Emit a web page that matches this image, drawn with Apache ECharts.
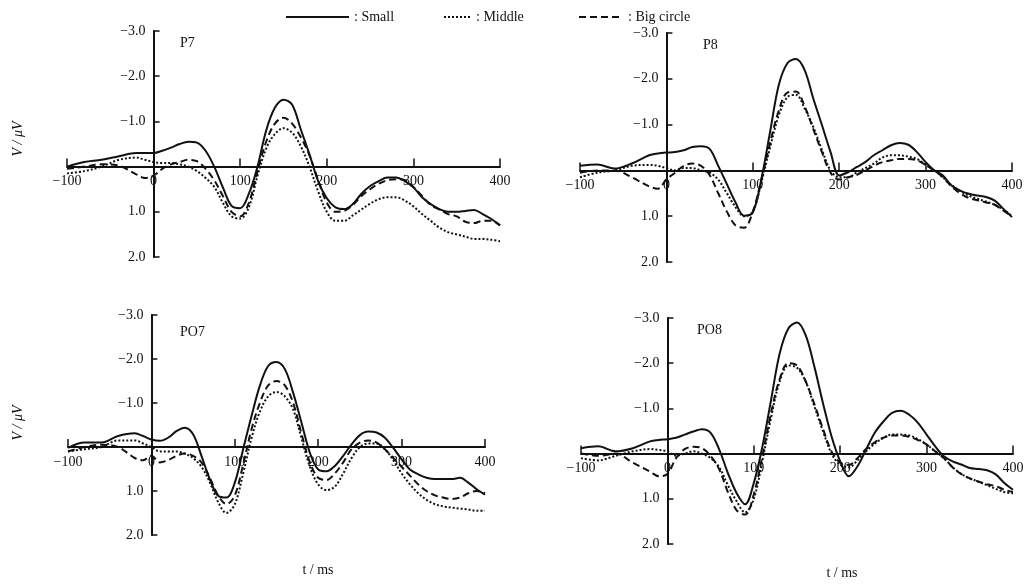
<!DOCTYPE html>
<html>
<head>
<meta charset="utf-8">
<script src="https://cdn.jsdelivr.net/npm/echarts@6/dist/echarts.min.js"></script>
<style>
  html, body { margin: 0; padding: 0; background: #fff; }
  #chart { width: 1029px; height: 586px; }
</style>
</head>
<body>
<div id="chart"></div>
<script>
// time points (ms)
var times = [-100, -80, -60, -40, -20, -10, 0, 10, 20, 30, 40, 50, 60, 70, 80, 90, 100,
  110, 120, 130, 140, 150, 160, 170, 180, 190, 200, 210, 220, 230, 240, 250, 260, 270,
  280, 290, 300, 310, 320, 330, 340, 350, 360, 370, 380, 390, 400];

var xTicks = [-100, 0, 100, 200, 300, 400];
var yTicks = [-3, -2, -1, 0, 1, 2];
var panelNames = ['P7', 'P8', 'PO7', 'PO8'];
var seriesNames = ['Small', 'Middle', 'Big circle'];

// amplitudes (μV), negative up
var p7Small = [0, -0.1, -0.15, -0.23, -0.3, -0.3, -0.3, -0.35, -0.42, -0.5, -0.55, -0.53, -0.35, 0, 0.46, 0.87, 0.92,
  0.6, 0, -0.8, -1.3, -1.48, -1.37, -0.82, -0.27, 0.32, 0.7, 0.9, 0.94, 0.83, 0.6, 0.43, 0.32, 0.24,
  0.24, 0.32, 0.46, 0.68, 0.83, 0.94, 1.0, 1.0, 0.98, 0.96, 1.05, 1.16, 1.3];
var p7Middle = [0.15, 0.1, 0, -0.15, -0.2, -0.15, -0.1, -0.08, -0.08, -0.05, 0, 0.1, 0.25, 0.45, 0.8, 1.1, 1.15,
  0.9, 0.2, -0.4, -0.72, -0.85, -0.75, -0.45, 0, 0.55, 1.0, 1.2, 1.2, 1.08, 0.95, 0.82, 0.72, 0.68,
  0.68, 0.75, 0.88, 1.05, 1.2, 1.35, 1.45, 1.5, 1.55, 1.6, 1.6, 1.62, 1.65];
var p7Big = [0.05, 0, -0.05, -0.02, 0.17, 0.25, 0.2, 0.05, -0.05, -0.1, -0.15, -0.12, 0.05, 0.3, 0.65, 1.0, 1.1,
  0.8, 0.1, -0.55, -0.95, -1.08, -0.95, -0.65, -0.25, 0.3, 0.8, 1.0, 0.98, 0.85, 0.65, 0.5, 0.38, 0.3,
  0.28, 0.3, 0.45, 0.65, 0.85, 0.95, 1.05, 1.1, 1.22, 1.25, 1.2, 1.2, 1.3];

var p8Small = [-0.1, -0.13, -0.04, -0.15, -0.33, -0.37, -0.39, -0.4, -0.44, -0.51, -0.53, -0.47, -0.1, 0.3, 0.7, 0.99, 0.92,
  0.18, -0.84, -1.86, -2.34, -2.43, -2.19, -1.57, -0.99, -0.4, 0.11, 0.04, -0.07, -0.18, -0.33, -0.44, -0.55, -0.6,
  -0.56, -0.4, -0.18, 0, 0.11, 0.33, 0.44, 0.51, 0.55, 0.58, 0.66, 0.84, 1.02];
var p8Middle = [0.15, 0.05, 0, -0.1, -0.12, -0.1, -0.05, 0, -0.05, -0.05, 0, 0.05, 0.2, 0.5, 0.8, 1.0, 0.9,
  0.25, -0.5, -1.2, -1.6, -1.65, -1.35, -0.95, -0.45, 0, 0.15, 0.15, 0.05, -0.05, -0.15, -0.28, -0.33, -0.33,
  -0.3, -0.25, -0.12, 0, 0.15, 0.32, 0.45, 0.55, 0.62, 0.68, 0.75, 0.85, 1.0];
var p8Big = [0.05, 0, 0, 0.15, 0.35, 0.4, 0.2, 0.05, -0.1, -0.15, -0.1, 0.1, 0.5, 0.9, 1.2, 1.25, 0.9,
  0.2, -0.6, -1.3, -1.7, -1.72, -1.4, -0.9, -0.4, 0.05, 0.2, 0.15, 0.1, 0, -0.1, -0.18, -0.22, -0.25,
  -0.25, -0.22, -0.12, 0, 0.15, 0.35, 0.5, 0.6, 0.65, 0.7, 0.75, 0.88, 1.0];

var po7Small = [0.02, -0.1, -0.1, -0.25, -0.31, -0.25, -0.17, -0.14, -0.21, -0.36, -0.44, -0.29, 0.2, 0.73, 1.11, 1.15, 0.81,
  0.05, -0.7, -1.39, -1.84, -1.93, -1.77, -1.23, -0.55, 0.13, 0.51, 0.55, 0.43, 0.2, -0.06, -0.27, -0.35, -0.33,
  -0.21, 0.02, 0.28, 0.51, 0.62, 0.7, 0.73, 0.73, 0.73, 0.7, 0.81, 0.96, 1.08];
var po7Middle = [0.1, 0.05, 0, -0.15, -0.15, -0.08, 0, 0.1, 0.1, 0.1, 0.15, 0.25, 0.45, 0.8, 1.25, 1.5, 1.3,
  0.6, -0.2, -0.8, -1.15, -1.25, -1.15, -0.85, -0.2, 0.45, 0.85, 0.98, 0.9, 0.6, 0.25, 0, -0.08, -0.08,
  0.05, 0.3, 0.6, 0.85, 1.05, 1.2, 1.3, 1.35, 1.38, 1.4, 1.42, 1.45, 1.45];
var po7Big = [0.1, 0, -0.05, 0, 0.25, 0.3, 0.2, 0.35, 0.3, 0.2, 0.15, 0.2, 0.35, 0.7, 1.1, 1.3, 1.1,
  0.4, -0.4, -1.0, -1.4, -1.5, -1.4, -1.0, -0.3, 0.35, 0.7, 0.75, 0.6, 0.35, 0.05, -0.1, -0.15, -0.1,
  0.05, 0.25, 0.45, 0.65, 0.85, 1.0, 1.1, 1.15, 1.18, 1.15, 1.05, 1.0, 1.05];

var po8Small = [-0.12, -0.16, -0.05, -0.12, -0.27, -0.3, -0.32, -0.35, -0.42, -0.49, -0.54, -0.46, -0.09, 0.43, 0.87, 1.12, 0.65,
  -0.16, -1.19, -2.22, -2.77, -2.9, -2.62, -1.93, -1.12, -0.38, 0.17, 0.5, 0.28, -0.09, -0.46, -0.71, -0.9, -0.95,
  -0.86, -0.68, -0.42, -0.16, 0.06, 0.17, 0.24, 0.32, 0.34, 0.37, 0.46, 0.65, 0.8];
var po8Middle = [0.1, 0.15, 0.05, -0.05, -0.1, -0.08, -0.05, 0.05, 0, -0.05, 0, 0.1, 0.3, 0.7, 1.05, 1.3, 1.0,
  0.15, -0.8, -1.6, -1.95, -1.9, -1.6, -1.05, -0.5, 0, 0.25, 0.3, 0.15, -0.05, -0.22, -0.35, -0.42, -0.42,
  -0.4, -0.32, -0.2, -0.05, 0.1, 0.3, 0.45, 0.55, 0.62, 0.7, 0.78, 0.85, 0.88];
var po8Big = [0, 0.05, 0, 0.2, 0.4, 0.5, 0.45, 0.1, -0.1, -0.15, -0.12, 0.05, 0.35, 0.85, 1.25, 1.35, 0.9,
  0.05, -0.9, -1.65, -2.0, -1.95, -1.6, -1.1, -0.55, -0.05, 0.2, 0.25, 0.1, -0.1, -0.25, -0.35, -0.4, -0.4,
  -0.37, -0.3, -0.2, -0.05, 0.1, 0.3, 0.45, 0.55, 0.62, 0.68, 0.72, 0.8, 0.85];

var panelData = [
  [p7Small, p7Middle, p7Big],
  [p8Small, p8Middle, p8Big],
  [po7Small, po7Middle, po7Big],
  [po8Small, po8Middle, po8Big]
];

var FONT = '"Liberation Serif", "DejaVu Serif", serif';
var INK = '#111';

var grids = [
  { left: 67, top: 31, width: 433, height: 226 },
  { left: 580, top: 33, width: 432, height: 229 },
  { left: 68, top: 315, width: 417, height: 220 },
  { left: 581, top: 318, width: 432, height: 226 }
];

var lineStyles = [
  { color: INK, width: 2, type: 'solid' },
  { color: INK, width: 2, type: 'dotted' },
  { color: INK, width: 2, type: [7, 4] }
];

function yLabel(v) {
  if (v === 0) return '';
  if (v < 0) return '\u2212' + Math.abs(v).toFixed(1);
  return v.toFixed(1);
}

// axes sit at t = 0 and V = 0, so shift them in from the grid edges
var xAxes = grids.map(function (g, i) {
  return {
    type: 'value', gridIndex: i, min: -100, max: 400, interval: 100,
    position: 'bottom', offset: -g.height * 0.4,
    axisLine: { onZero: false, lineStyle: { color: INK, width: 2 } },
    axisTick: { inside: true, length: 8, lineStyle: { color: INK, width: 1.5 } },
    axisLabel: { color: INK, fontFamily: FONT, fontSize: 14, margin: 8,
      formatter: function (v) { return v < 0 ? '\u2212' + Math.abs(v) : String(v); } },
    splitLine: { show: false }
  };
});

var yAxes = grids.map(function (g, i) {
  return {
    type: 'value', gridIndex: i, min: -3, max: 2, interval: 1, inverse: true,
    position: 'left', offset: -g.width * 0.2,
    axisLine: { onZero: false, lineStyle: { color: INK, width: 2 } },
    axisTick: { inside: true, length: 6, lineStyle: { color: INK, width: 1.5 } },
    axisLabel: { color: INK, fontFamily: FONT, fontSize: 14, margin: 8, formatter: yLabel },
    splitLine: { show: false }
  };
});

var series = [];
panelData.forEach(function (sets, i) {
  sets.forEach(function (arr, k) {
    series.push({
      name: seriesNames[k],
      type: 'line',
      xAxisIndex: i,
      yAxisIndex: i,
      smooth: 0.35,
      symbol: 'none',
      lineStyle: lineStyles[k],
      itemStyle: { color: 'rgba(0,0,0,0)', borderWidth: 0 },
      data: times.map(function (t, j) { return [t, arr[j]]; }),
      z: 3 - k
    });
  });
});

var legendPos = [
  { left: 280, itemWidth: 63 },
  { left: 438, itemWidth: 27 },
  { left: 573, itemWidth: 44 }
];
var legends = legendPos.map(function (p, k) {
  return {
    data: [seriesNames[k]],
    left: p.left, top: 5,
    itemWidth: p.itemWidth, itemHeight: 14, itemGap: 4,
    itemStyle: { opacity: 0 },
    formatter: function (name) { return ': ' + name; },
    textStyle: { color: INK, fontFamily: FONT, fontSize: 14 }
  };
});

var titlePos = [[180, 36], [703, 38], [180, 325], [697, 323]];
var graphics = titlePos.map(function (p, i) {
  return {
    type: 'text', left: p[0], top: p[1],
    style: { text: panelNames[i], fill: INK, font: '14px ' + FONT }
  };
});
[[18, 139], [18, 423]].forEach(function (p) {
  graphics.push({
    type: 'text', x: p[0], y: p[1], rotation: Math.PI / 2,
    style: { text: 'V / \u03bcV', fill: INK, font: 'italic 14px ' + FONT, align: 'center', verticalAlign: 'middle' }
  });
});
[[318, 570], [842, 573]].forEach(function (p) {
  graphics.push({
    type: 'text', x: p[0], y: p[1],
    style: { text: 't / ms', fill: INK, font: '14px ' + FONT, align: 'center', verticalAlign: 'middle' }
  });
});

var chart = echarts.init(document.getElementById('chart'));
chart.setOption({
  backgroundColor: '#fff',
  animation: false,
  legend: legends,
  grid: grids,
  xAxis: xAxes,
  yAxis: yAxes,
  series: series,
  graphic: graphics
});
</script>
</body>
</html>
